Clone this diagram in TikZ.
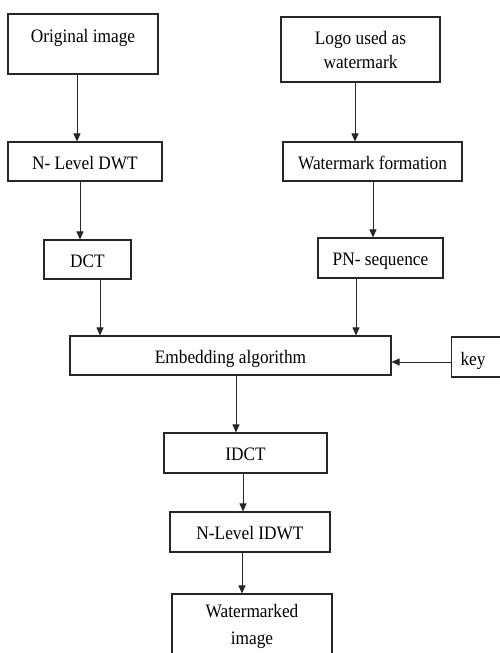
\documentclass[tikz,border=0pt]{standalone}
\usepackage{fontspec}
\setmainfont{Liberation Serif}[FakeStretch=0.91]
\usetikzlibrary{arrows.meta}
\tikzset{
  box/.style={draw=black!85, line width=1.1pt, rectangle, inner sep=0pt, align=center,
    font=\fontsize{19}{24}\selectfont},
  oneline/.style={text height=19pt, text depth=4pt},
  arr/.style={draw=black!85, line width=0.9pt, -{Triangle[length=8pt,width=7pt]}}
}
\begin{document}
\begin{tikzpicture}[x=1pt,y=-1pt]
\clip (0,0) rectangle (500,653);
\useasboundingbox (0,0) rectangle (500,653);
\fill[white] (0,0) rectangle (500,653);

% left branch: host image
\node[box, minimum width=150pt, minimum height=60pt] (orig) at (83,44) {Original image\\[-8pt]\mbox{}};
\node[box, oneline, minimum width=154pt, minimum height=39pt] (dwt) at (85,161.5) {N- Level DWT};
\node[box, oneline, minimum width=87pt, minimum height=39pt] (dct) at (87.5,259.5) {DCT};

% right branch: watermark logo
\node[box, minimum width=159pt, minimum height=65pt] (logo) at (360.5,49.5) {Logo used as\\watermark};
\node[box, oneline, minimum width=179pt, minimum height=39pt] (wf) at (372.5,161.5) {Watermark formation};
\node[box, oneline, minimum width=125pt, minimum height=40pt] (pn) at (380.5,258) {PN- sequence};

% embedding and key
\node[box, oneline, minimum width=321pt, minimum height=39pt] (emb) at (230.5,355.5) {Embedding algorithm};
\node[box, anchor=west, text height=21pt, text depth=4pt, minimum height=40pt, text width=46pt, inner xsep=9pt, align=left] (key) at (451,357) {key};

% inverse transforms and output
\node[box, oneline, minimum width=163pt, minimum height=40pt] (idct) at (245.5,453) {IDCT};
\node[box, oneline, minimum width=160pt, minimum height=40pt] (idwt) at (250,532) {N-Level IDWT};
\node[box, minimum width=160pt, minimum height=64pt, font=\fontsize{19}{27}\selectfont] (wm) at (252,626) {Watermarked\\image};

% connectors
\draw[arr] ([xshift=-6pt]orig.south) -- ([xshift=-6pt]orig.south |- dwt.north);
\draw[arr] ([xshift=-5pt]dwt.south) -- ([xshift=-5pt]dwt.south |- dct.north);
\draw[arr] ([xshift=12.5pt]dct.south) -- ([xshift=12.5pt]dct.south |- emb.north);
\draw[arr] ([xshift=-5.5pt]logo.south) -- ([xshift=-5.5pt]logo.south |- wf.north);
\draw[arr] ([xshift=0.5pt]wf.south) -- ([xshift=0.5pt]wf.south |- pn.north);
\draw[arr] ([xshift=-24.5pt]pn.south) -- ([xshift=-24.5pt]pn.south |- emb.north);
\draw[arr] ([yshift=-5pt]key.west) -- ([yshift=-5pt]key.west -| emb.east);
\draw[arr] ([xshift=5.5pt]emb.south) -- ([xshift=5.5pt]emb.south |- idct.north);
\draw[arr] ([xshift=-2.5pt]idct.south) -- ([xshift=-2.5pt]idct.south |- idwt.north);
\draw[arr] ([xshift=-8pt]idwt.south) -- ([xshift=-8pt]idwt.south |- wm.north);
\end{tikzpicture}
\end{document}
